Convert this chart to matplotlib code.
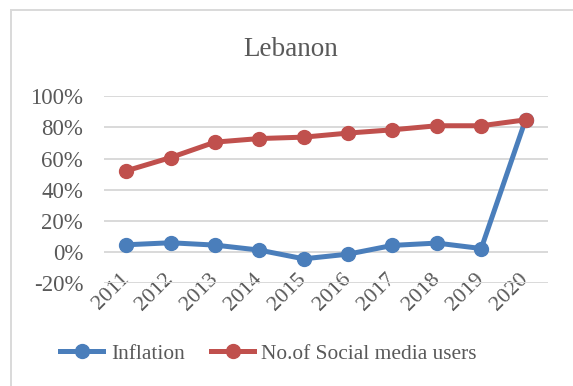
import matplotlib
matplotlib.use("Agg")
import matplotlib.pyplot as plt
from matplotlib.patches import Rectangle
from matplotlib.ticker import FuncFormatter

years = ["2011", "2012", "2013", "2014", "2015", "2016", "2017", "2018", "2019", "2020"]
inflation = [4.7, 6.0, 4.5, 1.3, -4.3, -1.3, 4.3, 5.8, 2.3, 84.9]
social_media = [52.1, 60.6, 70.5, 72.8, 73.7, 76.3, 78.4, 81.0, 81.0, 84.8]

plt.rcParams["font.family"] = ["Liberation Serif", "DejaVu Serif"]

fig = plt.figure(figsize=(5.73, 3.86), dpi=100)
ax = fig.add_axes([0.1815, 0.266, 0.7745, 0.485])

x = list(range(len(years)))
ax.plot(x, inflation, color="#4a7ebb", lw=3.6, marker="o", ms=10,
        label="Inflation", zorder=3)
ax.plot(x, social_media, color="#c0504d", lw=3.6, marker="o", ms=10,
        label="No.of Social media users", zorder=3)

ax.set_xlim(-0.5, len(years) - 0.5)
ax.set_ylim(-20, 100)
ax.set_yticks(range(-20, 101, 20))
ax.yaxis.set_major_formatter(FuncFormatter(lambda v, p: f"{int(v)}%"))
ax.set_xticks(x)
ax.set_xticklabels(years, rotation=45, ha="right", va="center",
                   rotation_mode="anchor")
ax.grid(axis="y", color="#d9d9d9", lw=1.4)
ax.set_axisbelow(True)
for s in ax.spines.values():
    s.set_visible(False)
ax.tick_params(length=0, labelsize=16.5, colors="#595959")
ax.tick_params(axis="y", pad=15)
ax.tick_params(axis="x", pad=-5, labelsize=16)

fig.text(0.507, 0.873, "Lebanon", ha="center", va="center",
         fontsize=19.5, color="#595959")

fig.legend(loc="center", bbox_to_anchor=(0.469, 0.083), ncol=2, frameon=False,
           fontsize=15.4, handlelength=2.0, columnspacing=1.25, handletextpad=0.35,
           labelcolor="#595959")

fig.patches.append(Rectangle((0.019, -0.05), 1.1, 1.024, transform=fig.transFigure,
                             fill=False, edgecolor="#d9d9d9", lw=1.4))

fig.savefig("out.png", dpi=100)
